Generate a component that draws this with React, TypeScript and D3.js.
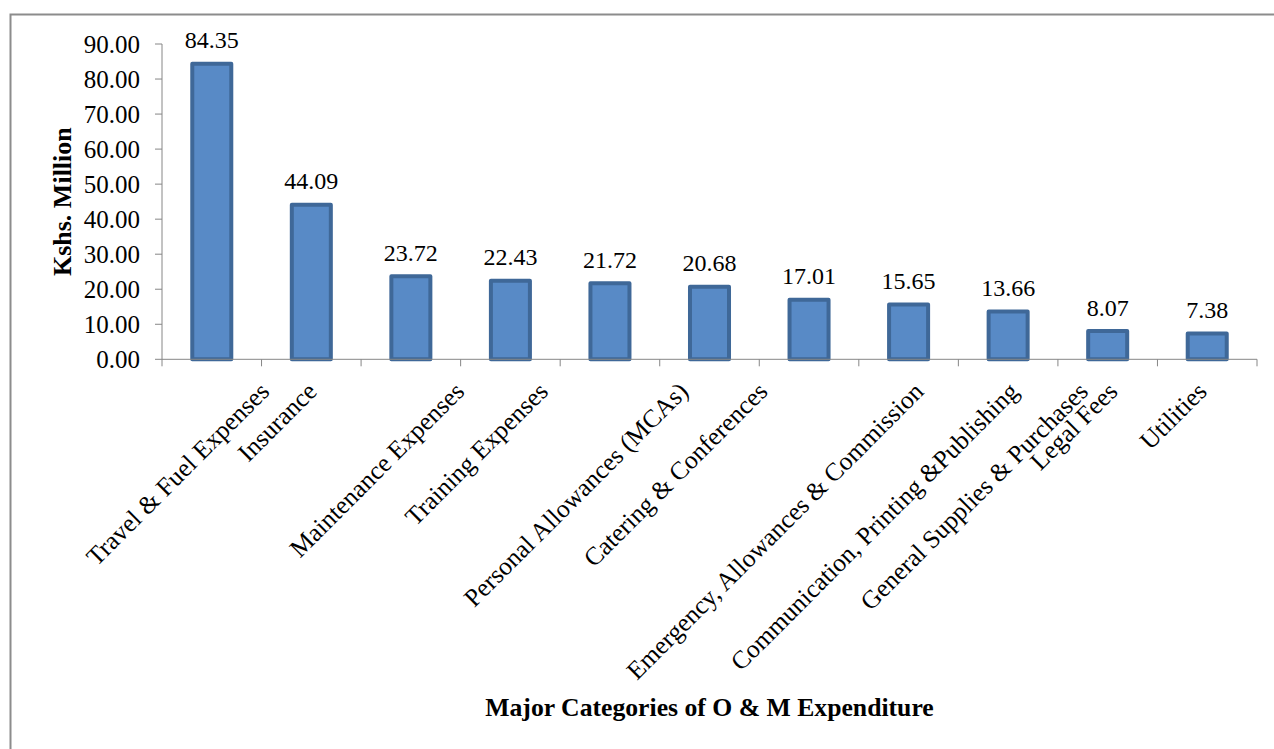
import React, { useEffect, useRef } from "react";
import * as d3 from "d3";

const categories: string[] = [
  "Travel & Fuel Expenses",
  "Insurance",
  "Maintenance Expenses",
  "Training Expenses",
  "Personal Allowances (MCAs)",
  "Catering & Conferences",
  "Emergency, Allowances & Commission",
  "Communication, Printing &Publishing",
  "General Supplies & Purchases",
  "Legal Fees",
  "Utilities",
];
const values: number[] = [84.35, 44.09, 23.72, 22.43, 21.72, 20.68, 17.01, 15.65, 13.66, 8.07, 7.38];
const yTicks: number[] = [0, 10, 20, 30, 40, 50, 60, 70, 80, 90];
const yTitle = "Kshs. Million";
const xTitle = "Major Categories of O & M Expenditure";

const W = 1274;
const H = 749;
const FONT = "'Liberation Serif', 'Times New Roman', serif";

export default function App() {
  const ref = useRef<SVGSVGElement | null>(null);

  useEffect(() => {
    const svg = d3.select(ref.current);
    svg.selectAll("*").remove();

    const left = 162;
    const right = 1257;
    const top = 44;
    const bottom = 359.3;

    const x = d3
      .scaleBand<string>()
      .domain(categories)
      .range([left, right])
      .paddingInner(0.608)
      .paddingOuter(0.304);
    const xb = d3.scaleBand<string>().domain(categories).range([left, right]).padding(0);
    const y = d3.scaleLinear().domain([0, 90]).range([bottom, top]);

    // outer border
    svg
      .append("rect")
      .attr("x", 10.5)
      .attr("y", 14.5)
      .attr("width", 1400)
      .attr("height", 900)
      .attr("fill", "none")
      .attr("stroke", "#8c8c8c")
      .attr("stroke-width", 2);

    const axisColor = "#868686";

    // y axis
    svg
      .append("line")
      .attr("x1", left)
      .attr("x2", left)
      .attr("y1", y(90))
      .attr("y2", y(0))
      .attr("stroke", axisColor)
      .attr("stroke-width", 1);
    const yt = svg.append("g");
    yTicks.forEach((t) => {
      yt.append("line")
        .attr("x1", left - 7)
        .attr("x2", left)
        .attr("y1", y(t))
        .attr("y2", y(t))
        .attr("stroke", axisColor);
      yt.append("text")
        .attr("x", 140)
        .attr("y", y(t) + 9)
        .attr("text-anchor", "end")
        .attr("font-family", FONT)
        .attr("font-size", 25)
        .attr("fill", "#000")
        .text(d3.format(".2f")(t));
    });

    // bars
    const barG = svg.append("g");
    categories.forEach((c, i) => {
      barG
        .append("rect")
        .attr("x", x(c)!)
        .attr("y", y(values[i]))
        .attr("width", x.bandwidth())
        .attr("height", y(0) - y(values[i]))
        .attr("fill", "#588AC6")
        .attr("stroke", "#3F6898")
        .attr("stroke-width", 4)
        .attr("stroke-linejoin", "round");
    });

    // x axis
    svg
      .append("line")
      .attr("x1", left)
      .attr("x2", right)
      .attr("y1", y(0))
      .attr("y2", y(0))
      .attr("stroke", axisColor);
    const boundaries = categories.map((c) => xb(c)!).concat([right]);
    boundaries.forEach((bx) => {
      svg
        .append("line")
        .attr("x1", bx)
        .attr("x2", bx)
        .attr("y1", y(0))
        .attr("y2", y(0) + 7)
        .attr("stroke", axisColor);
    });

    // value labels
    categories.forEach((c, i) => {
      svg
        .append("text")
        .attr("x", x(c)! + x.bandwidth() / 2)
        .attr("y", y(values[i]) - 15.5)
        .attr("text-anchor", "middle")
        .attr("font-family", FONT)
        .attr("font-size", 24)
        .attr("fill", "#000")
        .text(values[i].toFixed(2));
    });

    // category labels (rotated -45)
    categories.forEach((c) => {
      const cx = xb(c)! + xb.bandwidth() / 2;
      const t = svg
        .append("text")
        .attr("text-anchor", "middle")
        .attr("font-family", FONT)
        .attr("font-size", 25.5)
        .attr("fill", "#000")
        .text(c);
      const L = (t.node() as SVGTextElement).getComputedTextLength();
      const mx = cx - 28;
      const my = 393 + 0.7071 * (L / 2);
      t.attr("transform", `translate(${mx},${my}) rotate(-45)`);
    });

    // y title
    svg
      .append("text")
      .attr("transform", `translate(71,${(top + bottom) / 2}) rotate(-90)`)
      .attr("text-anchor", "middle")
      .attr("font-family", FONT)
      .attr("font-weight", "bold")
      .attr("font-size", 26)
      .attr("fill", "#000")
      .text(yTitle);

    // x title
    svg
      .append("text")
      .attr("x", (left + right) / 2)
      .attr("y", 716)
      .attr("text-anchor", "middle")
      .attr("font-family", FONT)
      .attr("font-weight", "bold")
      .attr("font-size", 25.7)
      .attr("fill", "#000")
      .text(xTitle);
  }, []);

  return (
    <svg
      ref={ref}
      width={W}
      height={H}
      style={{ position: "absolute", left: 0, top: 0, background: "#fff" }}
    />
  );
}
